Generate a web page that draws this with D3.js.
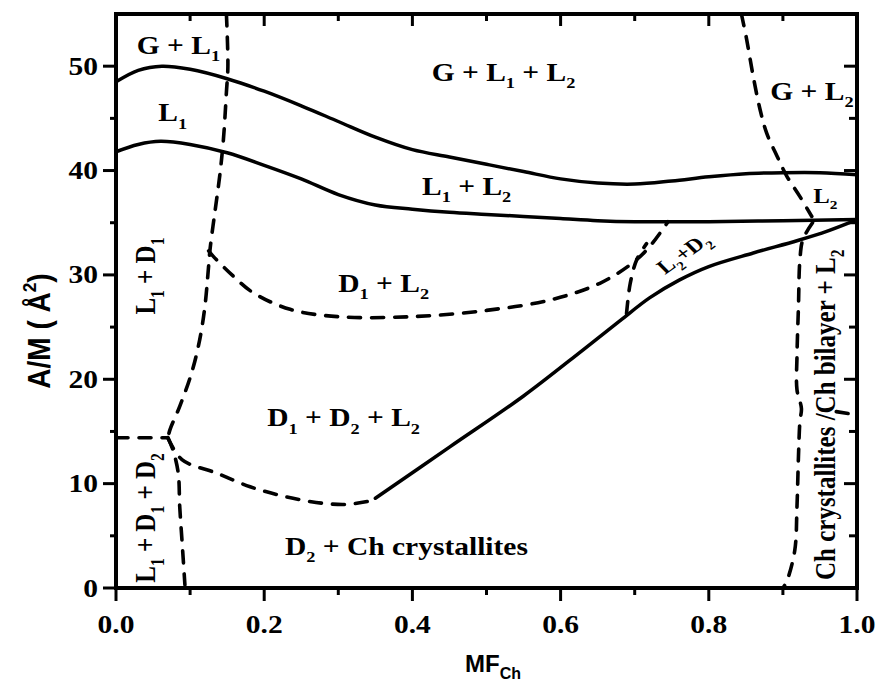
<!DOCTYPE html>
<html><head><meta charset="utf-8">
<script src="https://cdn.jsdelivr.net/npm/d3@7"></script>
<style>body{margin:0;background:#fff} svg{display:block}</style>
</head><body><svg id="c" width="879" height="691"></svg>
<script>
// ---------- data ----------
const xMajor = [0, 0.2, 0.4, 0.6, 0.8, 1.0];
const xMinor = [0.1, 0.3, 0.5, 0.7, 0.9];
const yMajor = [0, 10, 20, 30, 40, 50];
const yMinor = [5, 15, 25, 35, 45];
const xTickLabels = ["0.0", "0.2", "0.4", "0.6", "0.8", "1.0"];
const yTickLabels = ["0", "10", "20", "30", "40", "50"];

// solid phase boundaries
const solidGas = [[0,48.5],[0.03,49.6],[0.062,50.0],[0.1,49.7],[0.15,48.8],[0.2,47.6],[0.25,46.2],[0.3,44.7],[0.35,43.2],[0.4,42.0],[0.45,41.3],[0.5,40.6],[0.55,39.9],[0.6,39.2],[0.65,38.8],[0.7,38.7],[0.75,39.0],[0.8,39.4],[0.85,39.7],[0.9,39.8],[0.95,39.8],[1.0,39.6]];
const solidL1 = [[0,41.8],[0.03,42.5],[0.06,42.8],[0.1,42.5],[0.15,41.7],[0.2,40.5],[0.25,39.2],[0.3,37.7],[0.35,36.7],[0.4,36.3],[0.45,36.0],[0.5,35.8],[0.55,35.6],[0.6,35.4],[0.65,35.2],[0.7,35.1],[0.8,35.1],[0.9,35.2],[1.0,35.3]];
const solidD2 = [[0.35,8.6],[0.45,13.5],[0.55,18.4],[0.63,22.8],[0.68,25.6],[0.72,27.8],[0.76,29.5],[0.8,30.8],[0.86,32.1],[0.92,33.3],[0.96,34.2],[1.0,35.3]];

// dashed phase boundaries
const dashL1D1 = [[0.149,55],[0.151,50],[0.149,47.5],[0.145,43],[0.14,39.5],[0.134,36.3],[0.127,32.5],[0.124,30],[0.12,27],[0.113,23.8],[0.102,20.6],[0.086,17.4],[0.073,15.2],[0.07,14.4]];
const dashLeftH = [[0,14.4],[0.068,14.4]];
const dashLeftDown = [[0.07,14.4],[0.077,13.2],[0.084,11.0],[0.086,7.8],[0.089,4.6],[0.093,0.3]];
const dashD2Top = [[0.07,14.4],[0.089,12.3],[0.136,11.0],[0.181,9.7],[0.226,8.8],[0.27,8.2],[0.31,8.0],[0.34,8.3]];
const dashD1L2 = [[0.125,32.3],[0.131,31.8],[0.158,29.9],[0.185,28.3],[0.235,26.7],[0.3,26.0],[0.4,26.0],[0.5,26.6],[0.586,27.6],[0.653,29.2],[0.698,31.2],[0.72,32.7],[0.745,35.1]];
const dashL2D2 = [[0.689,26.3],[0.694,29.2],[0.703,31.5],[0.716,33.0]];
const dashGL2 = [[0.844,55],[0.851,52.6],[0.86,49.0],[0.869,45.9],[0.878,43.6],[0.892,41.4],[0.905,39.5],[0.923,37.5],[0.939,35.6]];
const dashCh = [[0.94,35.0],[0.927,33.4],[0.923,31.5],[0.921,27.0],[0.919,22.2],[0.919,19.0],[0.925,17.2],[0.923,16.0],[0.921,12.6],[0.919,7.8],[0.916,3.6],[0.905,0.6],[0.9,0]];
const dashChBilayer = [[0.972,16.9],[1.0,16.6]];

const solidCurves = [solidGas, solidL1, solidD2];
const dashedCurves = [dashL1D1, dashLeftH, dashLeftDown, dashD2Top, dashD1L2, dashL2D2, dashGL2, dashCh, dashChBilayer];

// region labels (anchored in data units)
const regionLabels = [
  {t:"G + L_1", x:0.028, y:51.2, a:0},
  {t:"L_1", x:0.057, y:44.7, a:0},
  {t:"G + L_1 + L_2", x:0.426, y:48.6, a:0},
  {t:"L_1 + L_2", x:0.413, y:37.7, a:0},
  {t:"G + L_2", x:0.883, y:46.8, a:0},
  {t:"L_2", x:0.941, y:36.9, a:0, s:21},
  {t:"D_1 + L_2", x:0.30, y:28.4, a:0},
  {t:"D_1 + D_2 + L_2", x:0.204, y:15.5, a:0},
  {t:"D_2 + Ch crystallites", x:0.228, y:3.2, a:0},
  {t:"L_1 + D_1", x:0.053, y:26.2, a:-90},
  {t:"L_1 + D_1 + D_2", x:0.053, y:0.5, a:-90},
  {t:"Ch crystallites /Ch bilayer + L_2", x:0.970, y:0.77, a:-90},
  {t:"L_2+D_2", x:0.741, y:30.0, a:-40, s:20}
];

// ---------- drawing ----------
const W = 879, H = 691;
const x = d3.scaleLinear().domain([0, 1]).range([116, 857]);
const y = d3.scaleLinear().domain([0, 55]).range([588, 14]);
const svg = d3.select("#c");
const SERIF = "'Liberation Serif','Times New Roman',serif";
const SANS = "'Liberation Sans',Arial,sans-serif";
const SX = 1.18;

function rich(t, str, fs) {
  const re = /([_^])(\w)/g;
  let last = 0, m, cur = 0;
  const push = (s, size, off) => {
    t.append("tspan").attr("font-size", size).attr("dy", off - cur).text(s);
    cur = off;
  };
  while ((m = re.exec(str))) {
    if (m.index > last) push(str.slice(last, m.index), fs, 0);
    push(m[2], fs * 0.62, m[1] === "_" ? fs * 0.3 : -fs * 0.45);
    last = m.index + 2;
  }
  if (last < str.length) push(str.slice(last), fs, 0);
}

// curves
const line = d3.line().x(d => x(d[0])).y(d => y(d[1])).curve(d3.curveCatmullRom.alpha(0.5));
const plot = svg.append("g");
plot.selectAll("path.solid").data(solidCurves).join("path")
  .attr("class", "solid").attr("d", line)
  .attr("fill", "none").attr("stroke", "#000").attr("stroke-width", 3.5)
  .attr("stroke-linecap", "round");
plot.selectAll("path.dash").data(dashedCurves).join("path")
  .attr("class", "dash").attr("d", line)
  .attr("fill", "none").attr("stroke", "#000").attr("stroke-width", 3.6)
  .attr("stroke-linecap", "round").attr("stroke-dasharray", "12,11");

// region labels
regionLabels.forEach(L => {
  const fs = L.s || 25;
  const t = svg.append("text")
    .attr("transform", `translate(${x(L.x)},${y(L.y)}) scale(${SX},1) rotate(${L.a})`)
    .attr("font-family", SERIF).attr("font-weight", "bold").attr("font-size", fs)
    .attr("fill", "#000");
  rich(t, L.t, fs);
});

// axes (ticks)
const g = svg.append("g").attr("stroke", "#000").attr("stroke-width", 3);
// bottom (outward)
g.selectAll("line.bM").data(xMajor).join("line").attr("x1", d => x(d)).attr("x2", d => x(d)).attr("y1", 588).attr("y2", 601);
g.selectAll("line.bm").data(xMinor).join("line").attr("class","bm").attr("x1", d => x(d)).attr("x2", d => x(d)).attr("y1", 588).attr("y2", 595);
// top (inward)
g.selectAll("line.tM").data(xMajor).join("line").attr("class","tM").attr("x1", d => x(d)).attr("x2", d => x(d)).attr("y1", 14).attr("y2", 26);
g.selectAll("line.tm").data(xMinor).join("line").attr("class","tm").attr("x1", d => x(d)).attr("x2", d => x(d)).attr("y1", 14).attr("y2", 21);
// left (outward)
g.selectAll("line.lM").data(yMajor).join("line").attr("class","lM").attr("y1", d => y(d)).attr("y2", d => y(d)).attr("x1", 116).attr("x2", 103);
g.selectAll("line.lm").data(yMinor).join("line").attr("class","lm").attr("y1", d => y(d)).attr("y2", d => y(d)).attr("x1", 116).attr("x2", 110);
// right (inward)
g.selectAll("line.rM").data(yMajor).join("line").attr("class","rM").attr("y1", d => y(d)).attr("y2", d => y(d)).attr("x1", 857).attr("x2", 844);
g.selectAll("line.rm").data(yMinor).join("line").attr("class","rm").attr("y1", d => y(d)).attr("y2", d => y(d)).attr("x1", 857).attr("x2", 849);

// frame
svg.append("rect").attr("x", x(0)).attr("y", y(55)).attr("width", x(1) - x(0)).attr("height", y(0) - y(55))
  .attr("fill", "none").attr("stroke", "#000").attr("stroke-width", 4);

// tick labels
svg.selectAll("text.xt").data(xMajor).join("text").attr("class", "xt")
  .attr("transform", d => `translate(${x(d)},633) scale(${SX},1)`)
  .attr("text-anchor", "middle").attr("font-family", SERIF).attr("font-weight", "bold").attr("font-size", 25)
  .text((d, i) => xTickLabels[i]);
svg.selectAll("text.yt").data(yMajor).join("text").attr("class", "yt")
  .attr("transform", d => `translate(98,${y(d) + 8.5}) scale(${SX},1)`)
  .attr("text-anchor", "end").attr("font-family", SERIF).attr("font-weight", "bold").attr("font-size", 25)
  .text((d, i) => yTickLabels[i]);

// axis titles
const xt = svg.append("text").attr("x", 465).attr("y", 672)
  .attr("font-family", SANS).attr("font-weight", "bold").attr("font-size", 24);
rich(xt, "MF_C", 24);
xt.select("tspan:last-child").text("Ch").attr("font-size", 16);

const yt = svg.append("text")
  .attr("transform", `translate(50,331) scale(1.1,1) rotate(-90)`)
  .attr("text-anchor", "middle").attr("font-family", SANS).attr("font-weight", "bold").attr("font-size", 28);
rich(yt, "A/M ( Å^2)", 28);
</script></body></html>
